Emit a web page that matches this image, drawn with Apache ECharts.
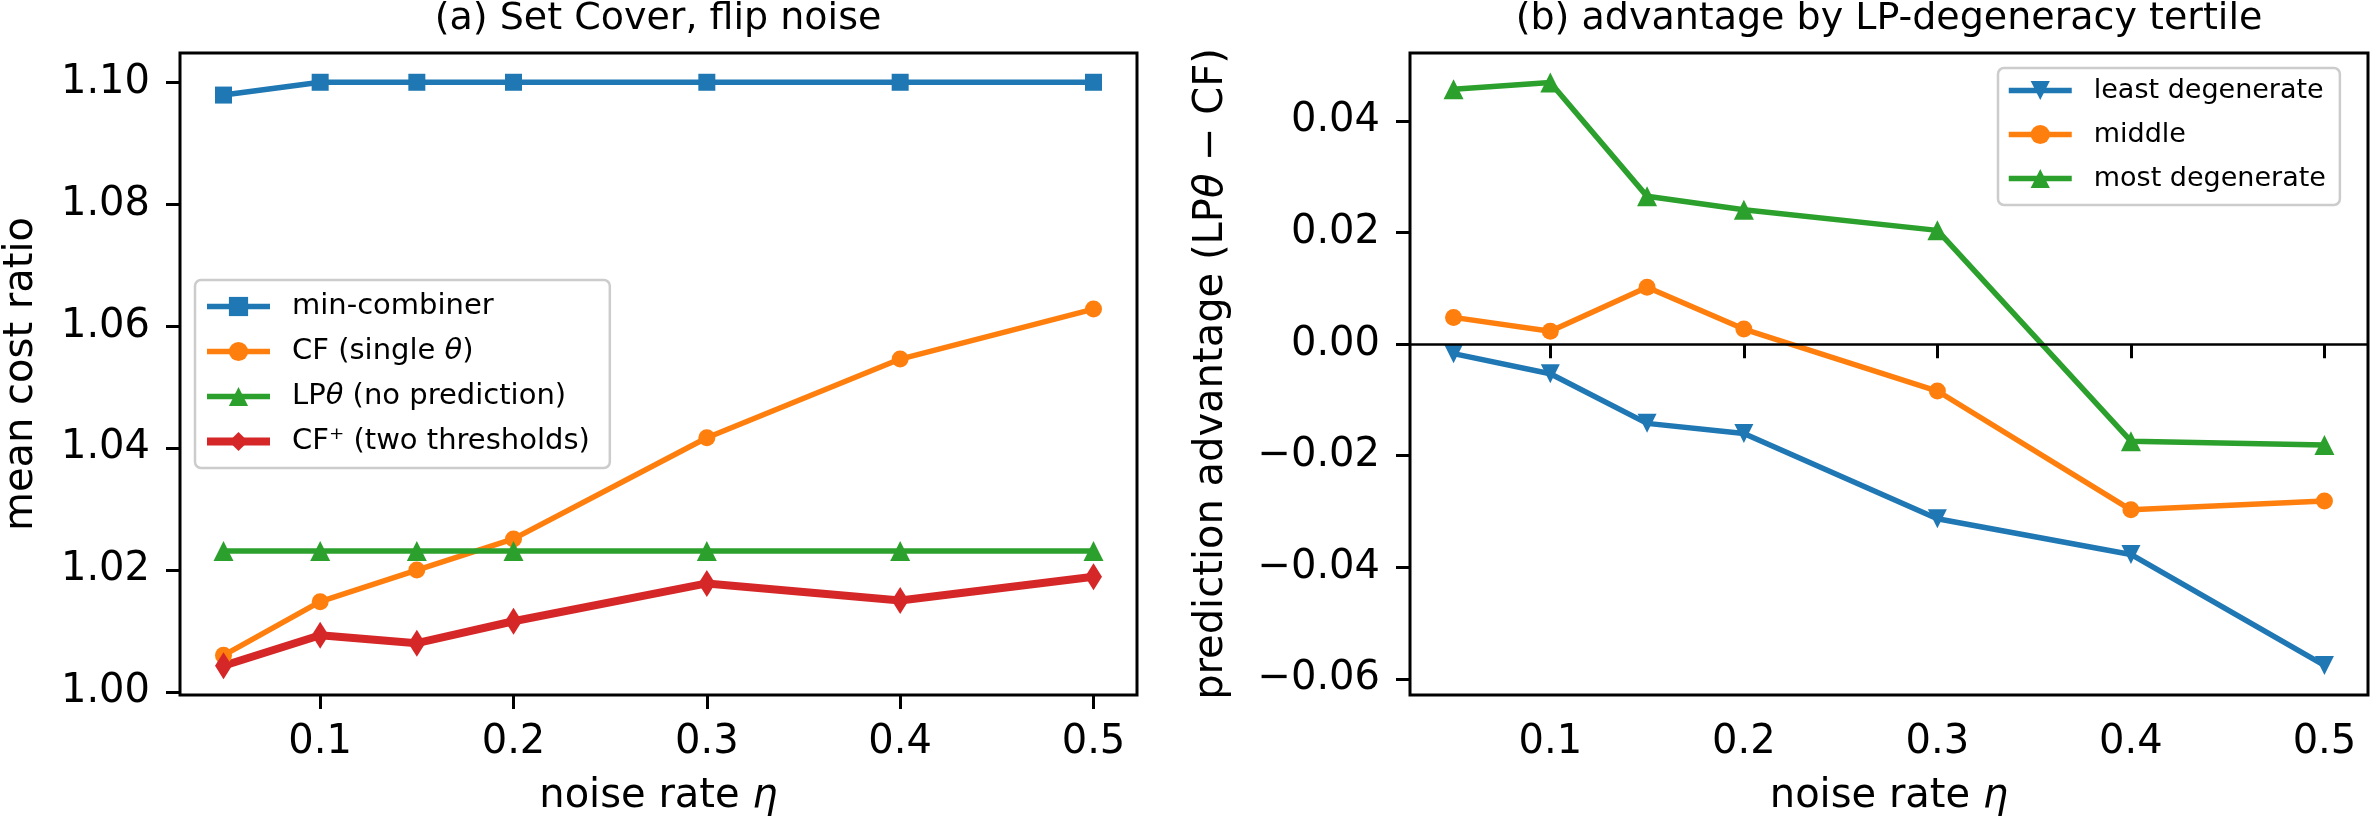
<!DOCTYPE html>
<html>
<head>
<meta charset="utf-8">
<title>Set Cover flip noise</title>
<script src="https://cdn.jsdelivr.net/npm/echarts@6/dist/echarts.min.js"></script>
<style>
  html, body { margin: 0; padding: 0; background: #fff; }
  #chart { width: 2371px; height: 824px; }
</style>
</head>
<body>
<div id="chart"></div>
<script>
// noise rates on the x axis (both panels)
var noise = [0.05, 0.1, 0.15, 0.2, 0.3, 0.4, 0.5];
var xTicks = [0.1, 0.2, 0.3, 0.4, 0.5];

// (a) mean cost ratio
var minComb = [1.0979, 1.1, 1.1, 1.1, 1.1, 1.1, 1.1];
var cfSingle = [1.0060, 1.0148, 1.0200, 1.0251, 1.0417, 1.0546, 1.0628];
var lpTheta = [1.0231, 1.0231, 1.0231, 1.0231, 1.0231, 1.0231, 1.0231];
var cfPlus = [1.0043, 1.0093, 1.0080, 1.0116, 1.0178, 1.0150, 1.0189];
var yTicksA = [1.00, 1.02, 1.04, 1.06, 1.08, 1.10];

// (b) prediction advantage per tertile
var leastDeg = [-0.0017, -0.0053, -0.0142, -0.0160, -0.0313, -0.0377, -0.0576];
var middleDeg = [0.0048, 0.0023, 0.0102, 0.0027, -0.0084, -0.0297, -0.0281];
var mostDeg = [0.0457, 0.0469, 0.0265, 0.0241, 0.0204, -0.0174, -0.0181];
var yTicksB = [-0.06, -0.04, -0.02, 0.00, 0.02, 0.04];

var FONT = "DejaVu Sans";
var BLUE = "#1f77b4", ORANGE = "#ff7f0e", GREEN = "#2ca02c", RED = "#d62728";
var DOWN = "path://M0,0 L10,0 L5,10 Z";
var LW = 5.5, LW_RED = 8;

function pairs(ys) {
  return noise.map(function(x, i) { return [x, ys[i]]; });
}
function minus(s) { return s.replace("-", "\u2212"); }

function xAxis(idx) {
  return {
    type: "value", gridIndex: idx, min: 0.0275, max: 0.5225,
    name: "noise rate {i|\u03b7}", nameLocation: "middle", nameGap: 82,
    nameTextStyle: { fontFamily: FONT, fontSize: 40, color: "#000",
      rich: { i: { fontFamily: FONT, fontSize: 40, fontStyle: "italic", color: "#000" } } },
    axisLine: { show: false },
    axisTick: { show: true, length: 14, lineStyle: { color: "#000", width: 3 }, customValues: xTicks },
    axisLabel: { fontFamily: FONT, fontSize: 40, color: "#000", margin: 28, customValues: xTicks,
      formatter: function(v) { return v.toFixed(1); } },
    splitLine: { show: false }
  };
}

function yAxis(idx, min, max, ticks, name, gap) {
  return {
    type: "value", gridIndex: idx, min: min, max: max,
    name: name, nameLocation: "middle", nameRotate: 90, nameGap: gap,
    nameTextStyle: { fontFamily: FONT, fontSize: 40, color: "#000",
      rich: { i: { fontFamily: FONT, fontSize: 40, fontStyle: "italic", color: "#000" } } },
    axisLine: { show: false },
    axisTick: { show: true, length: 14, lineStyle: { color: "#000", width: 3 }, customValues: ticks },
    axisLabel: { fontFamily: FONT, fontSize: 40, color: "#000", margin: 30, customValues: ticks,
      formatter: function(v) { return minus(v.toFixed(2)); } },
    splitLine: { show: false }
  };
}

function line(name, ys, color, symbol, size, width, xi, extra) {
  var s = {
    name: name, type: "line", xAxisIndex: xi, yAxisIndex: xi,
    data: pairs(ys), symbol: symbol, symbolSize: size, showSymbol: true,
    lineStyle: { color: color, width: width },
    itemStyle: { color: color, borderWidth: 0 },
    emphasis: { disabled: true }
  };
  if (extra) for (var k in extra) s[k] = extra[k];
  return s;
}

// legend entries: [name, line width]
function legend(entries, left, top, gap, fs, pad) {
  return {
    data: entries.map(function(e) { return { name: e[0], lineStyle: { width: e[1] } }; }),
    orient: "vertical", left: left, top: top,
    itemWidth: 63, itemHeight: 24, itemGap: gap,
    padding: pad,
    backgroundColor: "rgba(255,255,255,0.8)",
    borderColor: "#cccccc", borderWidth: 2.5, borderRadius: 6,
    selectedMode: false,
    textStyle: { fontFamily: FONT, fontSize: fs, color: "#000", padding: [0, 0, 0, 17],
      rich: { i: { fontFamily: FONT, fontSize: fs, fontStyle: "italic", color: "#000" } } },
    formatter: function(n) { return n.replace("\u03b8", "{i|\u03b8}"); }
  };
}

var chart = echarts.init(document.getElementById("chart"), null, { renderer: "canvas" });

chart.setOption({
  animation: false,
  backgroundColor: "#fff",
  title: [
    { text: "(a) Set Cover, flip noise", left: 658, top: 0, textAlign: "center", padding: 0,
      textStyle: { fontFamily: FONT, fontSize: 38, fontWeight: "normal", color: "#000" } },
    { text: "(b) advantage by LP-degeneracy tertile", left: 1889, top: 0, textAlign: "center", padding: 0,
      textStyle: { fontFamily: FONT, fontSize: 38, fontWeight: "normal", color: "#000" } }
  ],
  grid: [
    { left: 180, top: 53, width: 957, height: 642, show: true, borderColor: "#000", borderWidth: 3,
      backgroundColor: "transparent", outerBoundsMode: "none", containLabel: false },
    { left: 1410, top: 53, width: 958, height: 642, show: true, borderColor: "#000", borderWidth: 3,
      backgroundColor: "transparent", outerBoundsMode: "none", containLabel: false }
  ],
  xAxis: [xAxis(0), xAxis(1)],
  yAxis: [
    yAxis(0, 0.9995, 1.1048, yTicksA, "mean cost ratio", 138),
    yAxis(1, -0.0629, 0.0522, yTicksB, "prediction advantage (LP{i|\u03b8} \u2212 CF)", 178)
  ],
  legend: [
    legend([["min-combiner", LW], ["CF (single \u03b8)", LW], ["LP\u03b8 (no prediction)", LW],
            ["CF\u207a (two thresholds)", LW_RED]], 195, 280, 16, 29, [12, 20, 12, 8]),
    legend([["least degenerate", LW], ["middle", LW], ["most degenerate", LW]],
      1998, 68, 17, 27, [9, 14, 13, 8])
  ],
  series: [
    line("min-combiner", minComb, BLUE, "rect", 17, LW, 0),
    line("CF (single \u03b8)", cfSingle, ORANGE, "circle", 17, LW, 0),
    line("LP\u03b8 (no prediction)", lpTheta, GREEN, "triangle", 20, LW, 0),
    line("CF\u207a (two thresholds)", cfPlus, RED, "diamond", [17, 27], LW_RED, 0),
    line("least degenerate", leastDeg, BLUE, DOWN, 19, LW, 1, {
      markLine: {
        silent: true, symbol: "none", label: { show: false },
        lineStyle: { color: "#000", width: 2.5, type: "solid" },
        data: [{ yAxis: 0 }]
      }
    }),
    line("middle", middleDeg, ORANGE, "circle", 17, LW, 1),
    line("most degenerate", mostDeg, GREEN, "triangle", 20, LW, 1)
  ]
});
</script>
</body>
</html>
